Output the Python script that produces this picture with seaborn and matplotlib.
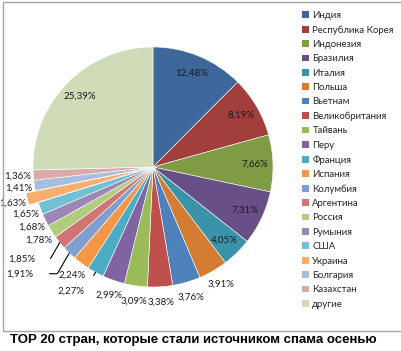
import numpy as np
import seaborn as sns
import matplotlib.pyplot as plt
from matplotlib.patches import Rectangle, Patch

sns.set_theme(style='white')
plt.rcParams['font.family'] = ['Lato', 'DejaVu Sans']

countries = ['Индия', 'Республика Корея', 'Индонезия', 'Бразилия', 'Италия', 'Польша',
             'Вьетнам', 'Великобритания', 'Тайвань', 'Перу', 'Франция', 'Испания',
             'Колумбия', 'Аргентина', 'Россия', 'Румыния', 'США', 'Украина',
             'Болгария', 'Казахстан', 'другие']
shares = [12.48, 8.19, 7.66, 7.31, 4.05, 3.91, 3.76, 3.38, 3.09, 2.99, 2.27, 2.24,
          1.91, 1.85, 1.78, 1.68, 1.65, 1.63, 1.41, 1.36, 25.39]
title = 'TOP 20 стран, которые стали источником спама осенью'

# excel-like palette: dark, normal, light, lighter
colors = ['#3d679a', '#a23e3b', '#7f9c44', '#684f88', '#3b93aa', '#d47c32',
          '#4f81bd', '#c0504d', '#9bbb59', '#8064a2', '#4bacc6', '#f79646',
          '#7f9fd0', '#d07572', '#b1cb7f', '#9c86b8', '#72c0d4', '#f9ad6e',
          '#a9bddf', '#dbaaa8', '#d0dcb8']

explode = [0.0] * len(shares)
explode[countries.index('Украина')] = 0.08

fig = plt.figure(figsize=(4.02, 3.51), dpi=100)
W, H = 402, 351
fig.patches.append(Rectangle((3 / W, 1 - 331 / H), 1.0, 329 / H, transform=fig.transFigure,
                             fill=False, edgecolor='#a6a6a6', linewidth=1.0))

ax = fig.add_axes([3 / W, 34 / H, 300 / W, 300 / H])
wedges, _ = ax.pie(shares, colors=colors, startangle=90, counterclock=False,
                   explode=explode, wedgeprops=dict(edgecolor='white', linewidth=0.4))
ax.set_xlim(-1.25, 1.25)
ax.set_ylim(-1.25, 1.25)
ax.set_aspect('equal')
ax.axis('off')

# labels: inside for big slices, outside for small ones, a few with leader lines
leaders = {10: (1.24, -5), 12: (1.42, -7), 13: (1.34, -4)}
cum = np.cumsum([0] + shares[:-1])
for i, (v, c0) in enumerate(zip(shares, cum)):
    ang = np.deg2rad(90 - 3.6 * (c0 + v / 2))
    txt = f'{v:.2f}%'.replace('.', ',')
    if v > 4 or i == len(shares) - 1:
        r = 0.85
        ax.text(r * np.cos(ang), r * np.sin(ang), txt, ha='center', va='center',
                fontsize=7, color='#1a1a1a')
    elif i in leaders:
        r, da = leaders[i]
        a2 = ang + np.deg2rad(da)
        x, y = r * np.cos(a2), r * np.sin(a2)
        ax.annotate(txt, xy=(1.0 * np.cos(ang), 1.0 * np.sin(ang)), xytext=(x, y),
                    ha='center', va='center', fontsize=7, color='#1a1a1a',
                    arrowprops=dict(arrowstyle='-', color='black', lw=0.8,
                                    shrinkA=9, shrinkB=0,
                                    connectionstyle='angle,angleA=0,angleB=60'))
    else:
        r = 1.13 + explode[i]
        ax.text(r * np.cos(ang), r * np.sin(ang), txt, ha='center', va='center',
                fontsize=7, color='#1a1a1a')

handles = [Patch(facecolor=c, edgecolor='none') for c in colors]
fig.legend(handles, countries, loc='upper left', bbox_to_anchor=(298 / W, 1 - 7 / H),
           frameon=False, fontsize=6.9, handlelength=0.7, handleheight=0.7,
           handletextpad=0.4, labelspacing=0.56, borderaxespad=0)

fig.text(10 / W, 1 - 340 / H, title, ha='left', va='center', fontsize=9.5,
         fontweight='bold', family=['Liberation Sans', 'DejaVu Sans'], color='black')

plt.savefig('out.png', dpi=100)
